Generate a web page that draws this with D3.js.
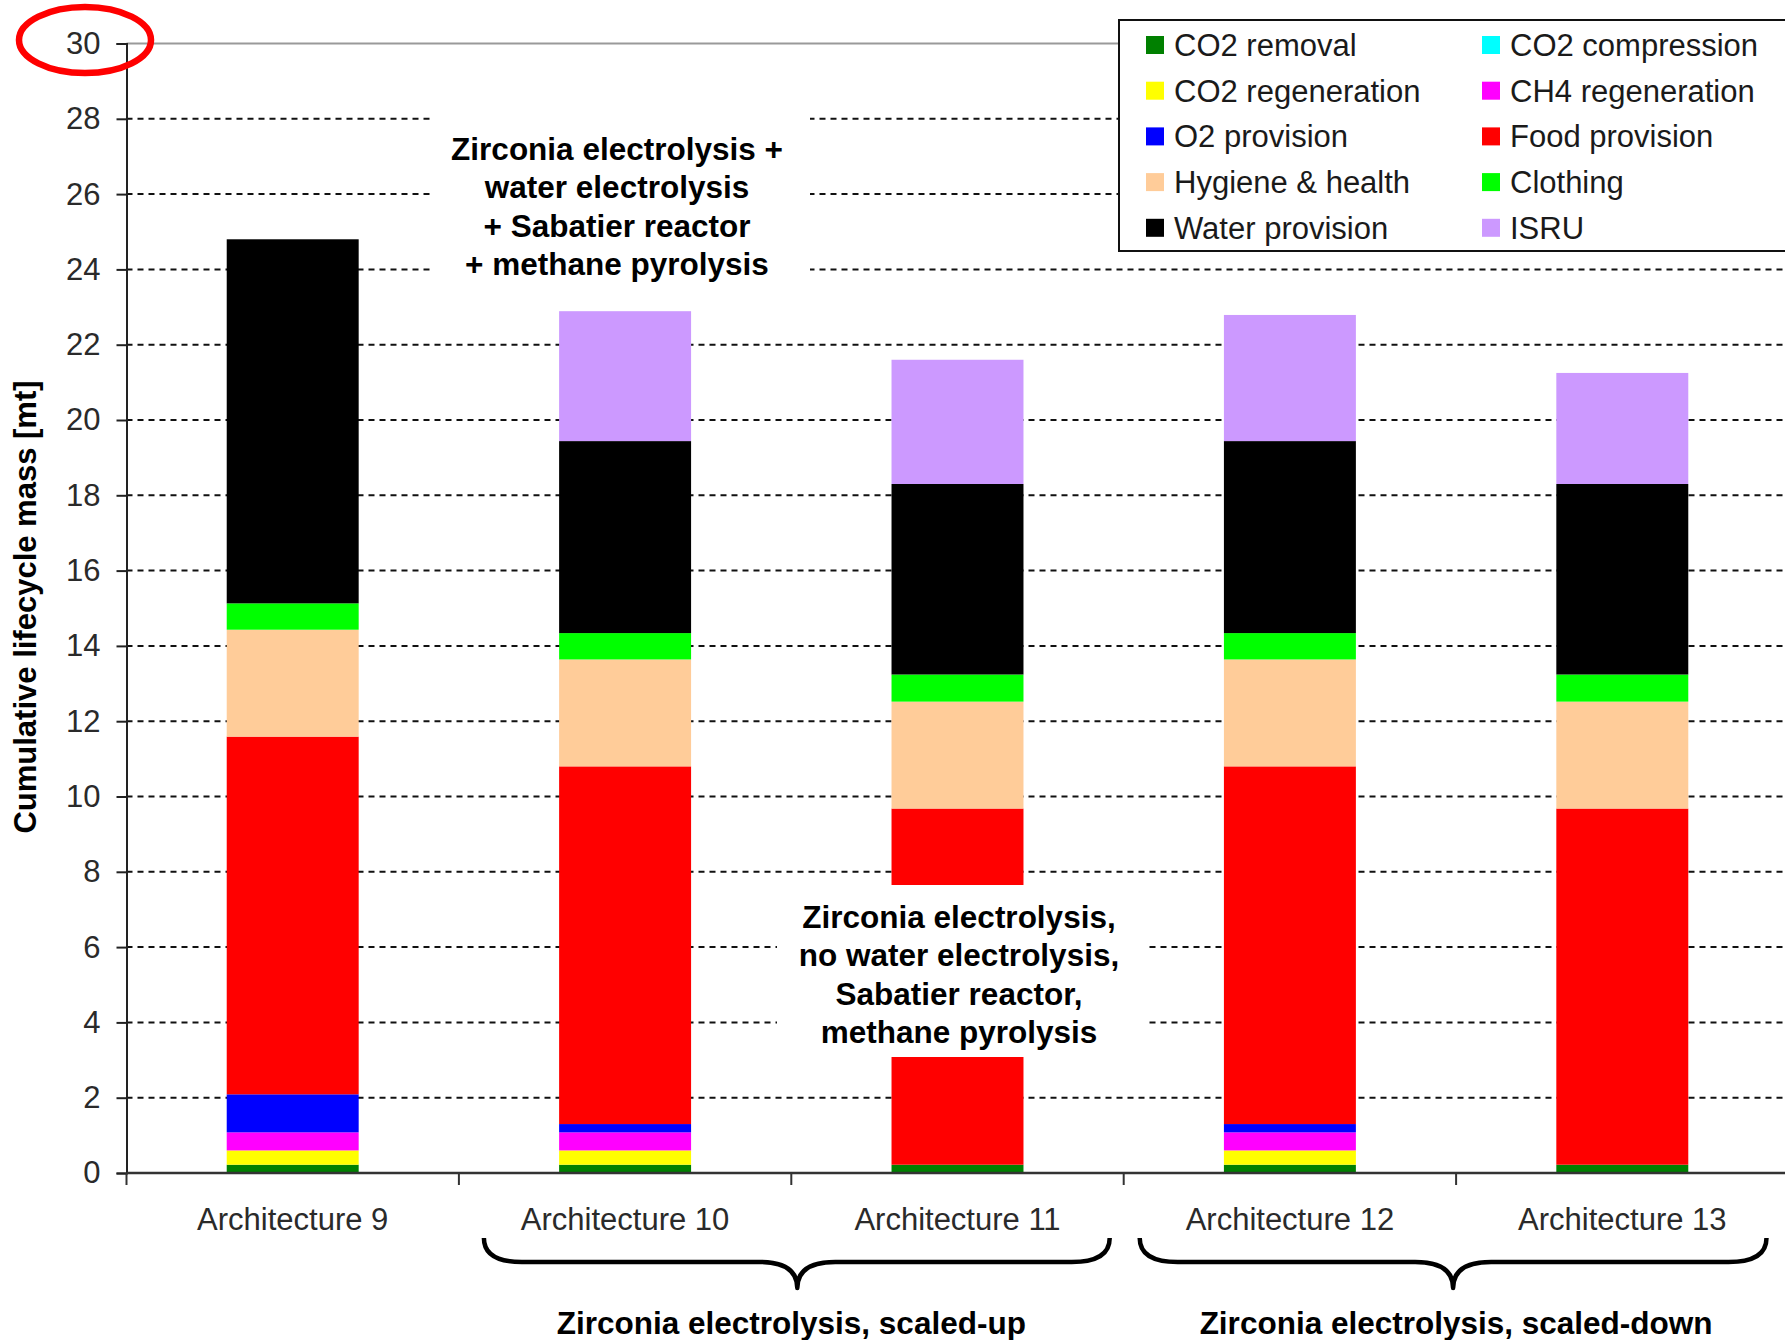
<!DOCTYPE html>
<html>
<head>
<meta charset="utf-8">
<script src="https://cdn.jsdelivr.net/npm/d3@7"></script>
<style>
  html, body { margin: 0; padding: 0; background: #fff; }
  svg { display: block; }
  text { font-family: "Liberation Sans", Arial, sans-serif; }
</style>
</head>
<body>
<svg id="chart" width="1785" height="1340"></svg>
<script>
// ---- data ---------------------------------------------------------------
const categories = ["Architecture 9", "Architecture 10", "Architecture 11", "Architecture 12", "Architecture 13"];
const seriesNames = ["CO2 removal", "CO2 compression", "CO2 regeneration", "CH4 regeneration", "O2 provision",
                     "Food provision", "Hygiene & health", "Clothing", "Water provision", "ISRU"];
const co2Removal      = [0.22, 0.22, 0.22, 0.22, 0.22];
const co2Compression  = [0, 0, 0, 0, 0];
const co2Regeneration = [0.38, 0.38, 0, 0.38, 0];
const ch4Regeneration = [0.48, 0.48, 0, 0.48, 0];
const o2Provision     = [1.01, 0.22, 0, 0.22, 0];
const foodProvision   = [9.5, 9.5, 9.46, 9.5, 9.46];
const hygieneHealth   = [2.84, 2.84, 2.84, 2.84, 2.84];
const clothing        = [0.7, 0.7, 0.72, 0.7, 0.72];
const waterProvision  = [9.67, 5.1, 5.06, 5.1, 5.06];
const isru            = [0, 3.45, 3.3, 3.35, 2.95];
const yTickValues = [0, 2, 4, 6, 8, 10, 12, 14, 16, 18, 20, 22, 24, 26, 28, 30];
const seriesColors = ["#008000", "#00FFFF", "#FFFF00", "#FF00FF", "#0000FF",
                      "#FF0000", "#FFCC99", "#00FF00", "#000000", "#CC99FF"];
const noteTop = ["Zirconia electrolysis +", "water electrolysis", "+ Sabatier reactor", "+ methane pyrolysis"];
const noteMid = ["Zirconia electrolysis,", "no water electrolysis,", "Sabatier reactor,", "methane pyrolysis"];
const groupLabels = ["Zirconia electrolysis, scaled-up", "Zirconia electrolysis, scaled-down"];

const seriesValues = [co2Removal, co2Compression, co2Regeneration, ch4Regeneration, o2Provision,
                      foodProvision, hygieneHealth, clothing, waterProvision, isru];
const rows = categories.map((c, i) => {
  const r = { category: c };
  seriesNames.forEach((s, k) => { r[s] = seriesValues[k][i]; });
  return r;
});

// ---- layout -------------------------------------------------------------
const svg = d3.select("#chart");
const plotLeft = 126.5, plotBottom = 1173, plotTop = 43.5, slot = 332.4;
const x = d3.scaleBand().domain(categories).range([plotLeft, plotLeft + slot * categories.length]).padding(0);
const y = d3.scaleLinear().domain([0, 30]).range([plotBottom, plotTop]);
const barW = x.bandwidth() * 0.397;
const plotRight = plotLeft + slot * categories.length;

// gridlines
svg.append("g").selectAll("line")
  .data(yTickValues.filter(v => v > 0 && v < 30))
  .join("line")
  .attr("x1", plotLeft).attr("x2", plotRight)
  .attr("y1", d => y(d)).attr("y2", d => y(d))
  .attr("stroke", "#111").attr("stroke-width", 2).attr("stroke-dasharray", "6,5");
svg.append("line")
  .attr("x1", plotLeft).attr("x2", plotRight).attr("y1", y(30)).attr("y2", y(30))
  .attr("stroke", "#9a9a9a").attr("stroke-width", 2);

// stacked bars
const stack = d3.stack().keys(seriesNames)(rows);
const color = d3.scaleOrdinal().domain(seriesNames).range(seriesColors);
svg.append("g").selectAll("g")
  .data(stack)
  .join("g")
  .attr("fill", d => color(d.key))
  .selectAll("rect")
  .data(d => d.filter(p => p[1] - p[0] > 0))
  .join("rect")
  .attr("x", d => x(d.data.category) + (x.bandwidth() - barW) / 2)
  .attr("width", barW)
  .attr("y", d => y(d[1]))
  .attr("height", d => y(d[0]) - y(d[1]));

// y axis
const yAxis = svg.append("g")
  .attr("transform", `translate(${plotLeft},0)`)
  .call(d3.axisLeft(y).tickValues(yTickValues).tickSize(10).tickPadding(16).tickFormat(d3.format("d")));
yAxis.select(".domain").attr("stroke", "#222").attr("stroke-width", 2);
yAxis.selectAll(".tick line").attr("stroke", "#222").attr("stroke-width", 2);
yAxis.selectAll(".tick text")
  .attr("font-size", 31).attr("fill", "#2a2a2a")
  .attr("font-family", "'Liberation Sans', Arial, sans-serif");

// x axis: line with ticks at slot boundaries
svg.append("line")
  .attr("x1", plotLeft).attr("x2", plotRight).attr("y1", plotBottom).attr("y2", plotBottom)
  .attr("stroke", "#333").attr("stroke-width", 2.5);
svg.append("g").selectAll("line")
  .data(categories)
  .join("line")
  .attr("x1", d => x(d)).attr("x2", d => x(d))
  .attr("y1", plotBottom).attr("y2", plotBottom + 12)
  .attr("stroke", "#333").attr("stroke-width", 2);
svg.append("g").selectAll("text")
  .data(categories)
  .join("text")
  .attr("x", d => x(d) + x.bandwidth() / 2)
  .attr("y", 1230)
  .attr("text-anchor", "middle")
  .attr("font-size", 31).attr("fill", "#2a2a2a")
  .text(d => d);

// y axis title
svg.append("text")
  .attr("transform", "translate(36,607) rotate(-90)")
  .attr("text-anchor", "middle")
  .attr("font-size", 31).attr("font-weight", "bold").attr("fill", "#000")
  .text("Cumulative lifecycle mass [mt]");

// note boxes
function note(lines, cx, boxX, boxY, boxW, boxH, firstBaseline) {
  svg.append("rect").attr("x", boxX).attr("y", boxY).attr("width", boxW).attr("height", boxH).attr("fill", "#fff");
  svg.append("text")
    .attr("text-anchor", "middle").attr("font-size", 31.5).attr("font-weight", "bold").attr("fill", "#000")
    .selectAll("tspan").data(lines).join("tspan")
    .attr("x", cx).attr("y", (d, i) => firstBaseline + i * 38.3)
    .text(d => d);
}
note(noteTop, 617, 430, 110, 380, 175, 160);
note(noteMid, 959, 777, 885, 368, 172, 928);

// legend
const legend = svg.append("g");
legend.append("rect")
  .attr("x", 1119).attr("y", 20).attr("width", 700).attr("height", 231)
  .attr("fill", "#fff").attr("stroke", "#111").attr("stroke-width", 2);
const items = legend.selectAll("g.item").data(seriesNames).join("g")
  .attr("class", "item")
  .attr("transform", (d, i) => `translate(${i % 2 === 0 ? 1146 : 1482},${45 + Math.floor(i / 2) * 45.7})`);
items.append("rect").attr("x", 0).attr("y", -9).attr("width", 18).attr("height", 18).attr("fill", d => color(d));
items.append("text").attr("x", 28).attr("y", 11).attr("font-size", 31).attr("fill", "#1a1a1a").text(d => d);

// group braces under the category labels
const braces = [
  { from: "Architecture 10", to: "Architecture 11", dl: 25, dr: -14, dm: 6, label: groupLabels[0] },
  { from: "Architecture 12", to: "Architecture 13", dl: 16, dr: -22, dm: -3, label: groupLabels[1] }
];
const yEnd = 1238, yMid = 1262, yTip = 1288, r = 38;
braces.forEach(b => {
  const x1 = x(b.from) + b.dl;
  const x2 = x(b.to) + x.bandwidth() + b.dr;
  const xm = x(b.to) + b.dm;
  const p = d3.path();
  p.moveTo(x1, yEnd);
  p.quadraticCurveTo(x1, yMid, x1 + r, yMid);
  p.lineTo(xm - r, yMid);
  p.quadraticCurveTo(xm, yMid, xm, yTip);
  p.quadraticCurveTo(xm, yMid, xm + r, yMid);
  p.lineTo(x2 - r, yMid);
  p.quadraticCurveTo(x2, yMid, x2, yEnd);
  svg.append("path").attr("d", p.toString()).attr("fill", "none")
    .attr("stroke", "#000").attr("stroke-width", 4.5).attr("stroke-linejoin", "round");
  svg.append("text")
    .attr("x", x(b.to)).attr("y", 1334)
    .attr("text-anchor", "middle").attr("font-size", 31.5).attr("font-weight", "bold").attr("fill", "#000")
    .text(b.label);
});

// highlight ring around the top tick label
svg.append("ellipse")
  .attr("cx", 85).attr("cy", 40).attr("rx", 66).attr("ry", 33)
  .attr("fill", "none").attr("stroke", "#FF0000").attr("stroke-width", 6.5);
</script>
</body>
</html>
